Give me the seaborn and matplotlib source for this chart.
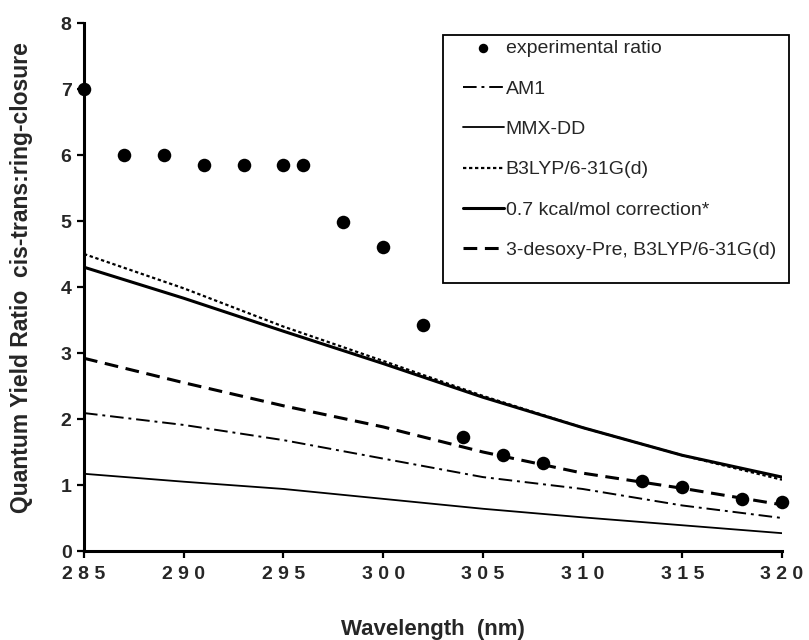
import numpy as np
import pandas as pd
import seaborn as sns
import matplotlib
matplotlib.use("Agg")
import matplotlib.pyplot as plt
from matplotlib.patches import Rectangle

# ---- data ----
exp_wl = [285, 287, 289, 291, 293, 295, 296, 298, 300, 302, 304, 306, 308, 313, 315, 318, 320]
exp_ratio = [7.0, 6.0, 6.0, 5.85, 5.85, 5.85, 5.85, 4.98, 4.6, 3.42, 1.72, 1.46, 1.33, 1.06, 0.97, 0.79, 0.74]

calc_wl = [285, 290, 295, 300, 305, 310, 315, 320]
am1 = [2.09, 1.91, 1.68, 1.40, 1.12, 0.94, 0.69, 0.50]
mmx_dd = [1.17, 1.05, 0.94, 0.79, 0.64, 0.51, 0.39, 0.27]
b3lyp = [4.50, 3.98, 3.40, 2.88, 2.35, 1.87, 1.45, 1.08]
corr07 = [4.30, 3.83, 3.33, 2.84, 2.33, 1.87, 1.45, 1.12]
desoxy = [2.92, 2.55, 2.20, 1.88, 1.50, 1.18, 0.95, 0.70]

labels = ["experimental ratio", "AM1", "MMX-DD", "B3LYP/6-31G(d)",
          "0.7 kcal/mol correction*", "3-desoxy-Pre, B3LYP/6-31G(d)"]
x_ticks = [285, 290, 295, 300, 305, 310, 315, 320]
y_ticks = [0, 1, 2, 3, 4, 5, 6, 7, 8]

sns.set_style("white")
plt.rcParams['font.family'] = ['Liberation Sans', 'DejaVu Sans']

fig = plt.figure(figsize=(8.09, 6.4), dpi=100)
W, H = 809, 640
ax = fig.add_axes([84 / W, 1 - 551 / H, (782 - 84) / W, (551 - 23) / H])

sns.lineplot(x=calc_wl, y=am1, ax=ax, color='black', lw=1.4,
             linestyle=(0, (7, 2.5, 1.5, 2.5)), label=labels[1])
sns.lineplot(x=calc_wl, y=mmx_dd, ax=ax, color='black', lw=1.3,
             linestyle='-', label=labels[2])
sns.lineplot(x=calc_wl, y=b3lyp, ax=ax, color='black', lw=1.6,
             linestyle=(0, (1.5, 1.2)), label=labels[3])
sns.lineplot(x=calc_wl, y=corr07, ax=ax, color='black', lw=2.2,
             linestyle='-', label=labels[4])
sns.lineplot(x=calc_wl, y=desoxy, ax=ax, color='black', lw=2.2,
             linestyle=(0, (4.5, 2.5)), label=labels[5])
sns.scatterplot(x=exp_wl, y=exp_ratio, ax=ax, color='black', s=95,
                edgecolor='black', linewidth=0, label=labels[0],
                clip_on=False, zorder=5)

ax.set_xlim(285, 320)
ax.set_ylim(0, 8)
ax.set_xticks(x_ticks)
ax.set_yticks(y_ticks)
ax.set_xticklabels([' '.join(str(v)) for v in x_ticks])
ax.set_yticklabels([str(v) for v in y_ticks])
for lab in ax.get_xticklabels() + ax.get_yticklabels():
    lab.set_fontweight('bold')
    lab.set_fontsize(14)
ax.tick_params(axis='both', direction='out', length=5, width=1.6,
               color='black', left=True, bottom=True)
ax.tick_params(axis='y', pad=4)
ax.tick_params(axis='x', pad=6)

for side in ['top', 'right']:
    ax.spines[side].set_visible(False)
for side in ['left', 'bottom']:
    ax.spines[side].set_color('black')
    ax.spines[side].set_linewidth(2.2)

ax.set_xlabel('Wavelength  (nm)', fontsize=16, fontweight='bold')
ax.set_ylabel('Quantum Yield Ratio  cis-trans:ring-closure', fontsize=16.5,
              fontweight='bold')
ax.xaxis.set_label_coords((433 - 84) / 698, (551 - 629) / 528)
ax.xaxis.label.set_va('center')
ax.yaxis.set_label_coords((22 - 84) / 698, (551 - 278) / 528)
ax.yaxis.label.set_va('center')
ax.grid(False)

# legend
handles, labs = ax.get_legend_handles_labels()
order = [labs.index(l) for l in labels]
leg = ax.legend([handles[i] for i in order], [labs[i] for i in order],
                loc='upper left', bbox_to_anchor=(453 / W, 1 - 30 / H),
                bbox_transform=fig.transFigure, frameon=False,
                borderpad=0, handlelength=2.1, handletextpad=0.1,
                labelspacing=1.17, fontsize=14, markerscale=0.7)
fig.patches.append(Rectangle((443 / W, 1 - 283 / H), (789 - 443) / W,
                             (283 - 35) / H, transform=fig.transFigure,
                             fill=False, edgecolor='black', lw=1.3))

fig.savefig('out.png', dpi=100, facecolor='white')
